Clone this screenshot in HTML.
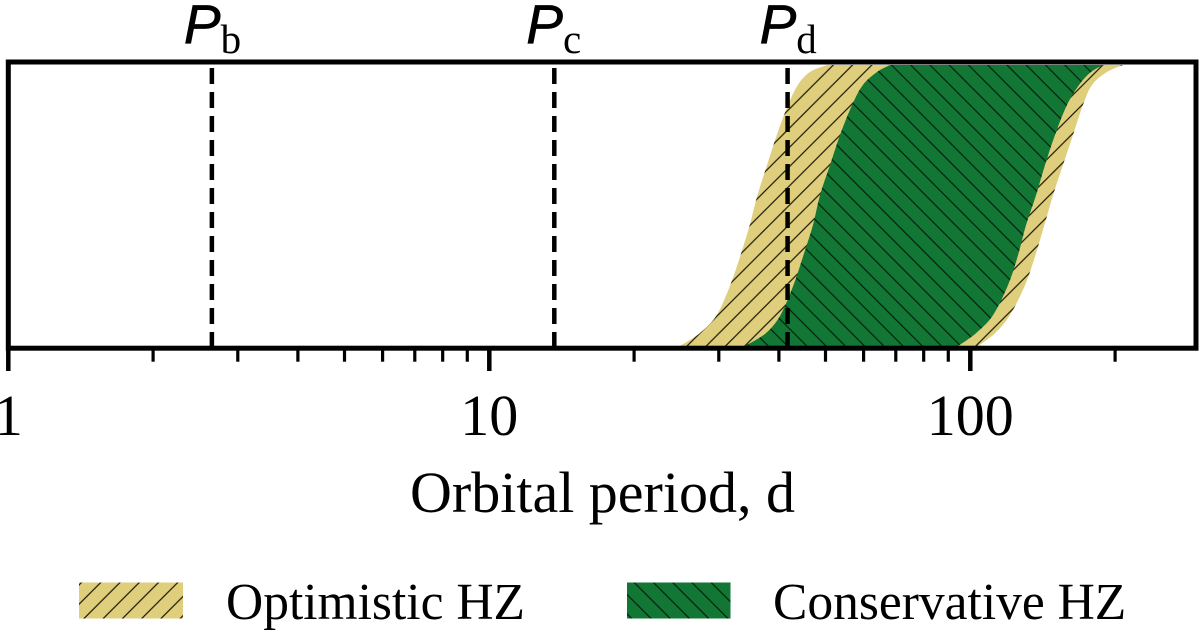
<!DOCTYPE html>
<html>
<head>
<meta charset="utf-8">
<title>Habitable zone vs orbital period</title>
<style>
html,body{margin:0;padding:0;background:#fff;width:1200px;height:631px;overflow:hidden}
svg{display:block}
text{fill:#000;font-family:"Liberation Serif",serif}
.sym{font-family:"Liberation Sans",sans-serif;font-style:italic;font-size:55px;stroke:#000;stroke-width:.7px}
</style>
</head>
<body>
<svg id="chart" width="1200" height="631" viewBox="0 0 1200 631" xmlns="http://www.w3.org/2000/svg">
<defs>
<pattern id="hatch-opt" width="19.25" height="19.25" patternUnits="userSpaceOnUse" patternTransform="translate(12.8 0)">
<path d="M-2 2L2 -2M0 19.25L19.25 0M17.25 21.25L21.25 17.25" stroke="#1a1806" stroke-width="1.2" fill="none"/>
</pattern>
<pattern id="hatch-cons" width="19.25" height="19.25" patternUnits="userSpaceOnUse" patternTransform="translate(18 0)">
<path d="M-2 17.25L2 21.25M0 0L19.25 19.25M17.25 -2L21.25 2" stroke="#04200e" stroke-width="1.2" fill="none"/>
</pattern>
<pattern id="hatch-opt-legend" width="19.25" height="19.25" patternUnits="userSpaceOnUse" patternTransform="translate(9.5 0)">
<path d="M-2 2L2 -2M0 19.25L19.25 0M17.25 21.25L21.25 17.25" stroke="#1a1806" stroke-width="1.2" fill="none"/>
</pattern>
<pattern id="hatch-cons-legend" width="19.25" height="19.25" patternUnits="userSpaceOnUse" patternTransform="translate(13.2 0)">
<path d="M-2 17.25L2 21.25M0 0L19.25 19.25M17.25 -2L21.25 2" stroke="#04200e" stroke-width="1.2" fill="none"/>
</pattern>
</defs>
<g id="zones"></g>
<g id="period-lines"></g>
<rect x="8.3" y="62" width="1187.7" height="286.2" fill="none" stroke="#000" stroke-width="5"/>
<g id="ticks"></g>
<text x="602.5" y="512" font-size="58" text-anchor="middle">Orbital period, d</text>
<g>
<g>
<rect x="79" y="582.5" width="104" height="36" fill="#dfce7c"/>
<rect x="79" y="582.5" width="104" height="36" fill="url(#hatch-opt-legend)"/>
<text x="226" y="619" font-size="51.5">Optimistic HZ</text>
</g>
<g>
<rect x="627" y="582.5" width="103.5" height="36" fill="#127734"/>
<rect x="627" y="582.5" width="103.5" height="36" fill="url(#hatch-cons-legend)"/>
<text x="773" y="619" font-size="51.5">Conservative HZ</text>
</g>
</g>
</svg>
<script>
// Chart data
const yLevels = [0, 0.046, 0.11, 0.217, 0.324, 0.431, 0.537, 0.644, 0.751, 0.858, 0.929, 0.975, 1];
const optimisticInner = [24.9, 27.4, 29.7, 31.7, 33.3, 34.8, 36.1, 37.8, 39.6, 41.8, 43.8, 46.4, 50.4];
const conservativeInner = [34.0, 37.6, 40.3, 42.9, 45.0, 47.1, 48.7, 51.1, 53.6, 56.8, 59.8, 64.0, 68.1];
const conservativeOuter = [94.3, 102.8, 111.5, 119.8, 125.7, 130.6, 137.0, 143.0, 150.0, 158.9, 168.3, 178.2, 188.8];
const optimisticOuter = [103.8, 112.6, 120.9, 130.0, 136.6, 142.6, 148.6, 155.8, 163.5, 171.5, 179.1, 192.4, 207.8];
const planetNames = ['b', 'c', 'd'];
const planetPeriods = [2.65, 13.65, 41.7];
const majorTicks = [1, 10, 100];
const majorTickLabels = ['1', '10', '100'];
const minorTicks = [2, 3, 4, 5, 6, 7, 8, 9, 20, 30, 40, 50, 60, 70, 80, 90, 200];

const NS = 'http://www.w3.org/2000/svg';
const xScale = p => 8.3 + 481 * Math.log10(p);
const yScale = v => 346 - 281 * v;

function make(tag, attrs, parent) {
  const el = document.createElementNS(NS, tag);
  for (const k in attrs) el.setAttribute(k, attrs[k]);
  parent.appendChild(el);
  return el;
}

// Smooth Catmull-Rom segments through a list of points
function smooth(pts) {
  let d = '';
  for (let i = 0; i < pts.length - 1; i++) {
    const p0 = pts[Math.max(i - 1, 0)], p1 = pts[i], p2 = pts[i + 1], p3 = pts[Math.min(i + 2, pts.length - 1)];
    const c1x = p1[0] + (p2[0] - p0[0]) / 6, c1y = p1[1] + (p2[1] - p0[1]) / 6;
    const c2x = p2[0] - (p3[0] - p1[0]) / 6, c2y = p2[1] - (p3[1] - p1[1]) / 6;
    d += 'C' + c1x.toFixed(2) + ' ' + c1y.toFixed(2) + ' ' + c2x.toFixed(2) + ' ' + c2y.toFixed(2) + ' ' + p2[0].toFixed(2) + ' ' + p2[1].toFixed(2);
  }
  return d;
}

function bandPath(inner, outer) {
  const a = inner.map((p, i) => [xScale(p), yScale(yLevels[i])]);
  const b = outer.map((p, i) => [xScale(p), yScale(yLevels[i])]).reverse();
  return 'M' + a[0][0] + ' ' + a[0][1] + smooth(a) + 'L' + b[0][0] + ' ' + b[0][1] + smooth(b) + 'Z';
}

const zones = document.getElementById('zones');
const optD = bandPath(optimisticInner, optimisticOuter);
const consD = bandPath(conservativeInner, conservativeOuter);

const optFill = make('path', {d: optD, fill: '#dfce7c'}, zones);


const optHatch = make('path', {d: optD, fill: 'url(#hatch-opt)'}, zones);


const consFill = make('path', {d: consD, fill: '#127734'}, zones);


const consHatch = make('path', {d: consD, fill: 'url(#hatch-cons)'}, zones);



const linesGroup = document.getElementById('period-lines');
planetPeriods.forEach((p, i) => {
  const x = xScale(p);
  const line = make('line', {x1: x, x2: x, y1: 68, y2: 348, stroke: '#000', 'stroke-width': 4.5, 'stroke-dasharray': '16 8'}, linesGroup);
  
  
  const label = make('text', {x: x - 28, y: 43}, linesGroup);
  
  
  const sym = make('tspan', {class: 'sym'}, label);
  sym.textContent = 'P';
  const sub = make('tspan', {'font-size': 41, dy: 10, dx: 0}, label);
  sub.textContent = planetNames[i];
});

const ticks = document.getElementById('ticks');
majorTicks.forEach((t, i) => {
  const x = xScale(t);
  const tick = make('line', {x1: x, x2: x, y1: 348, y2: 371, stroke: '#000', 'stroke-width': 4.5}, ticks);
  
  
  const label = make('text', {x: x, y: 435, 'font-size': 58, 'text-anchor': 'middle'}, ticks);
  
  
  label.textContent = majorTickLabels[i];
});
minorTicks.forEach(t => {
  const x = xScale(t);
  const tick = make('line', {x1: x, x2: x, y1: 348, y2: 361.7, stroke: '#000', 'stroke-width': 3.2}, ticks);
  
  
});
</script>
</body>
</html>
